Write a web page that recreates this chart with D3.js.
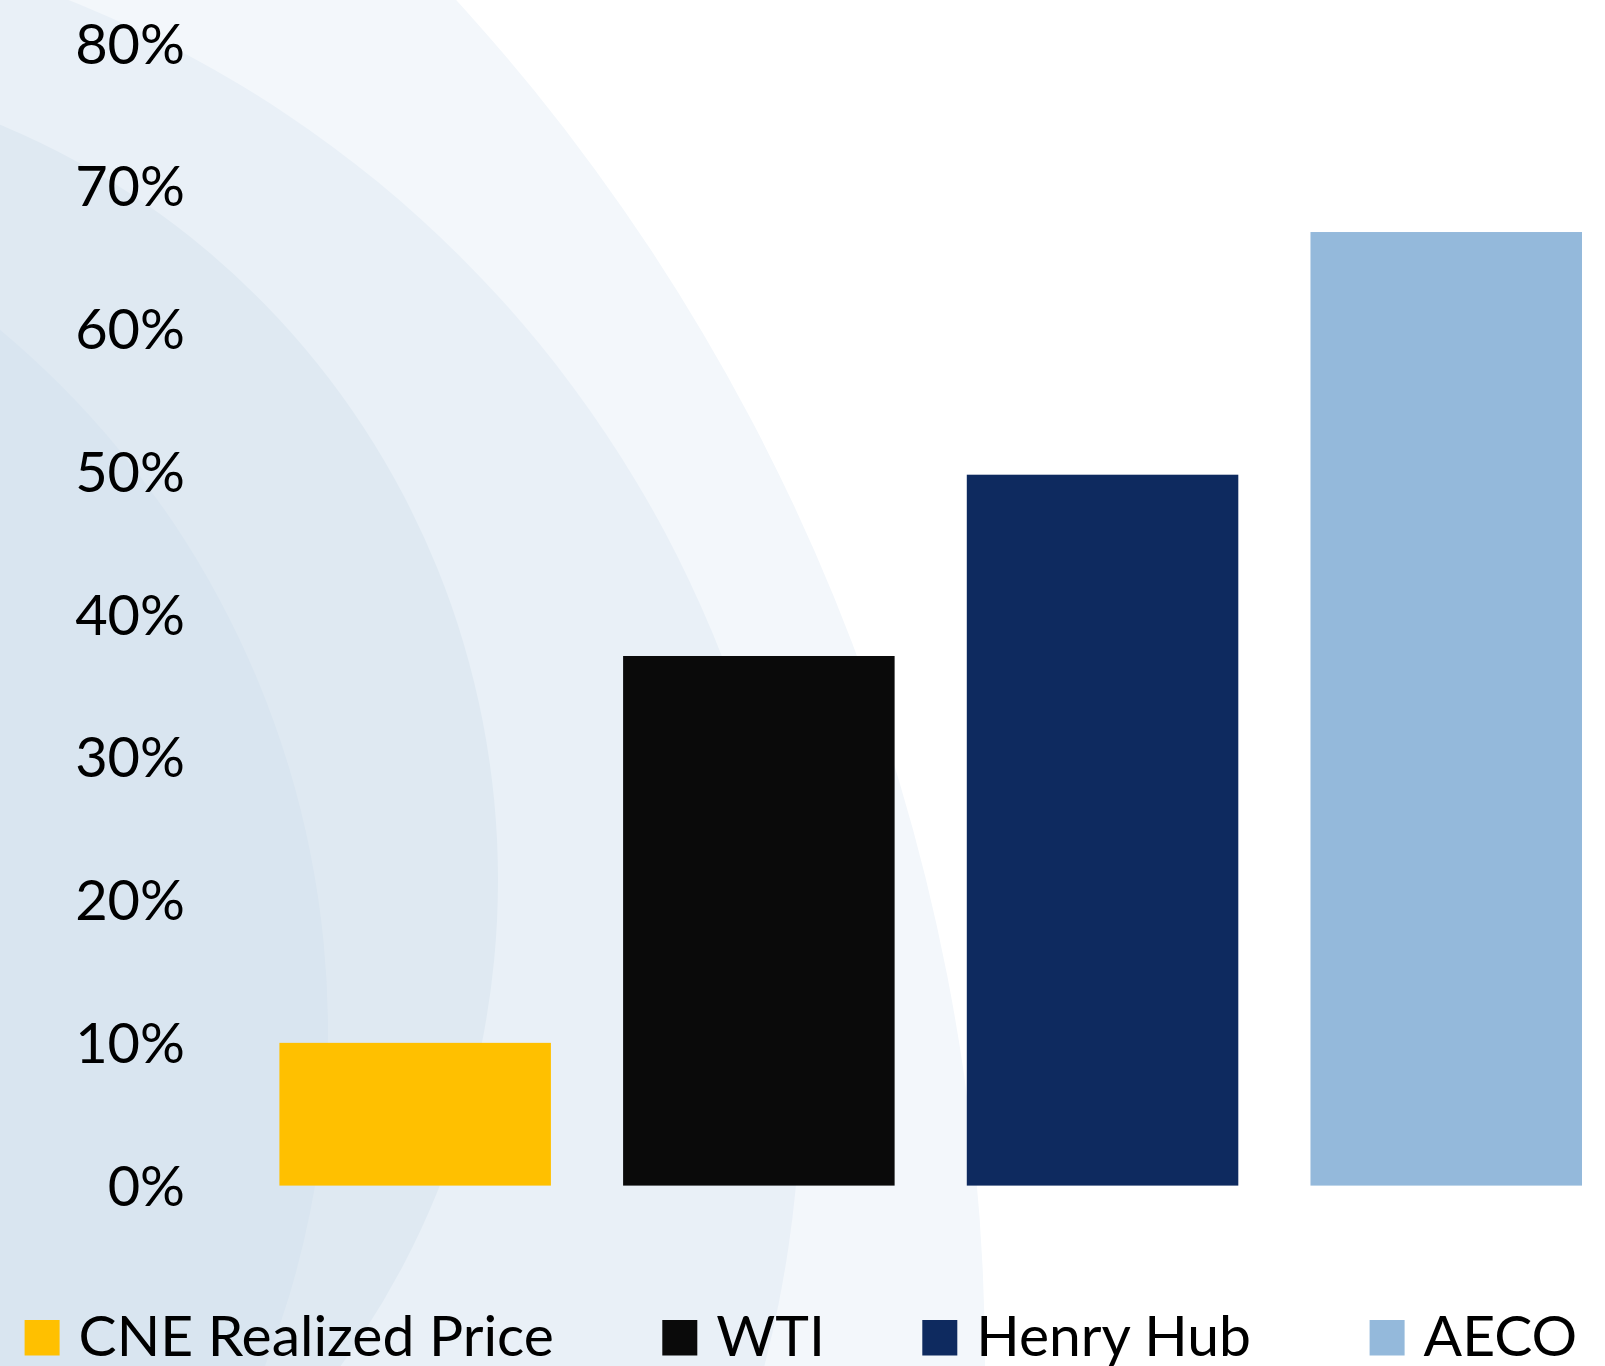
<!DOCTYPE html>
<html>
<head>
<meta charset="utf-8">
<script src="https://cdn.jsdelivr.net/npm/d3@7"></script>
<style>
  html, body { margin: 0; padding: 0; background: #ffffff; }
  #chart { width: 1605px; height: 1366px; overflow: hidden; }
  text { font-family: Lato, 'Open Sans', 'DejaVu Sans', sans-serif; }
</style>
</head>
<body>
<div id="chart"></div>
<script>
var categories = ['CNE Realized Price', 'WTI', 'Henry Hub', 'AECO'];
var values = [0.100, 0.371, 0.498, 0.668];
var colors = ['#ffc000', '#0a0a0a', '#0e2a5f', '#94b9db'];
var yTicks = [0, 0.1, 0.2, 0.3, 0.4, 0.5, 0.6, 0.7, 0.8];

var width = 1605,
    height = 1366;

var svg = d3.select('#chart')
    .append('svg')
    .attr('width', width)
    .attr('height', height);

// soft background rings, outermost first
var rings = [
    { cx: -1000, cy: 1366, rx: 1985, ry: 2010, fill: '#f3f7fb' },
    { cx: -357, cy: 1077, rx: 1158, ry: 1158, fill: '#e9f0f7' },
    { cx: -300, cy: 880, rx: 798, ry: 815, fill: '#dfe9f2' },
    { cx: -588, cy: 1032, rx: 916, ry: 916, fill: '#d9e5f0' }
];

svg.append('g')
    .selectAll('ellipse')
    .data(rings)
    .enter()
    .append('ellipse')
    .attr('cx', function (d) { return d.cx; })
    .attr('cy', function (d) { return d.cy; })
    .attr('rx', function (d) { return d.rx; })
    .attr('ry', function (d) { return d.ry; })
    .attr('fill', function (d) { return d.fill; });

var x = d3.scaleBand()
    .domain(categories)
    .range([279.4, 1582])
    .paddingInner(0.21)
    .paddingOuter(0);

var y = d3.scaleLinear()
    .domain([0, 0.8])
    .range([1185.6, 43.6]);

var yAxis = d3.axisLeft(y)
    .tickValues(yTicks)
    .tickFormat(d3.format('.0%'))
    .tickSize(0)
    .tickPadding(0);

var gy = svg.append('g')
    .attr('transform', 'translate(185,0)')
    .call(yAxis);

gy.select('.domain').remove();
gy.selectAll('text')
    .attr('font-size', 56)
    .attr('fill', '#000')
    .attr('dy', '0.35em')
    .style('font-family', "Lato, 'Open Sans', sans-serif");

svg.append('g')
    .selectAll('rect')
    .data(values)
    .enter()
    .append('rect')
    .attr('x', function (d, i) { return x(categories[i]); })
    .attr('y', function (d) { return y(d); })
    .attr('width', x.bandwidth())
    .attr('height', function (d) { return y(0) - y(d); })
    .attr('fill', function (d, i) { return colors[i]; });

// legend along the bottom
var legendX = [24.6, 662.3, 922.3, 1369.6];

var legend = svg.append('g')
    .selectAll('g')
    .data(categories)
    .enter()
    .append('g')
    .attr('transform', function (d, i) {
        return 'translate(' + legendX[i] + ',1320)';
    });

legend.append('rect')
    .attr('width', 35)
    .attr('height', 35.5)
    .attr('fill', function (d, i) { return colors[i]; });

legend.append('text')
    .attr('x', 54)
    .attr('y', 35.5)
    .attr('font-size', 57)
    .attr('fill', '#000')
    .text(function (d) { return d; });
</script>
</body>
</html>
